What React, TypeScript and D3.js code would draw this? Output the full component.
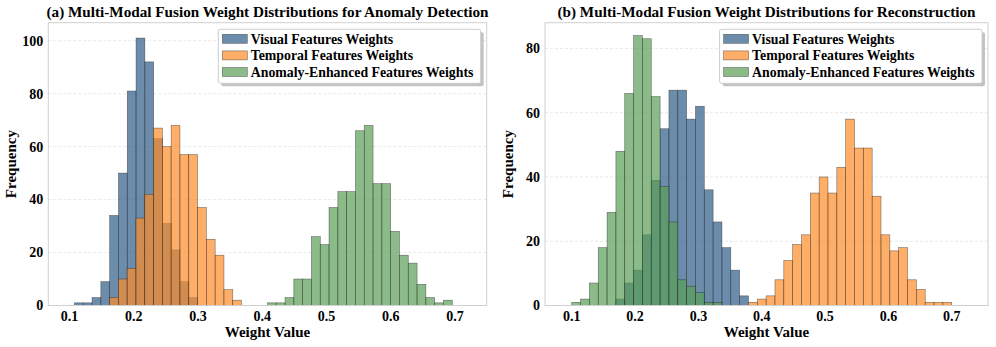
import * as d3 from "d3";

const seriesNames = [
  "Visual Features Weights",
  "Temporal Features Weights",
  "Anomaly-Enhanced Features Weights",
];

// (a) anomaly detection - bin start per series + counts per bin
const anomalyBinWidth = 0.0137;
const anomalyBinStarts = [0.1076, 0.1622, 0.408];
const anomalyVisual = [1, 1, 3, 9, 34, 50, 81, 101, 92, 63, 31, 21, 9, 3];
const anomalyTemporal = [3, 10, 14, 33, 42, 67, 60, 68, 57, 57, 37, 25, 19, 6, 2];
const anomalyEnhanced = [1, 1, 3, 10, 10, 26, 23, 37, 43, 43, 66, 68, 46, 46, 28, 19, 16, 8, 3, 1, 2];

// (b) reconstruction
const reconBinWidth = 0.013953;
const reconBinStarts = [0.16977, 0.37907, 0.1];
const reconVisual = [2, 7, 11, 22, 39, 55, 67, 67, 58, 62, 36, 26, 18, 11, 3];
const reconTemporal = [1, 2, 3, 8, 14, 19, 22, 35, 40, 35, 43, 58, 49, 49, 34, 22, 17, 18, 8, 5, 1, 1, 1];
const reconEnhanced = [1, 2, 7, 18, 29, 48, 66, 84, 83, 65, 37, 26, 8, 6, 4, 1, 1];

const xTicks = [0.1, 0.2, 0.3, 0.4, 0.5, 0.6, 0.7];
const anomalyYTicks = [0, 20, 40, 60, 80, 100];
const reconYTicks = [0, 20, 40, 60, 80];

const colors = ["#2E5B88", "#FF8C28", "#5A9E56"];
const font = "'Liberation Serif', 'Times New Roman', serif";

type PanelProps = {
  left: number;
  right: number;
  xDomain: [number, number];
  yMax: number;
  yTicks: number[];
  title: string;
  binWidth: number;
  starts: number[];
  counts: number[][];
};

const top = 22.7;
const bottom = 305.5;

function Panel({ left, right, xDomain, yMax, yTicks, title, binWidth, starts, counts }: PanelProps) {
  const x = d3.scaleLinear().domain(xDomain).range([left, right]);
  const y = d3.scaleLinear().domain([0, yMax]).range([bottom, top]);
  const cx = (left + right) / 2;
  const legW = 262.4;
  const legX = right - 6 - legW;
  const legY = 29.3;

  return (
    <g>
      <text x={cx} y={17} textAnchor="middle" fontSize={15.2} fontWeight="bold" fontFamily={font}>
        {title}
      </text>
      {yTicks.map((t) => (
        <line key={"g" + t} x1={left} x2={right} y1={y(t)} y2={y(t)}
          stroke="#b0b0b0" strokeOpacity={0.35} strokeDasharray="3,2" strokeWidth={0.8} />
      ))}
      {counts.map((arr, si) => (
        <g key={si}>
          {arr.map((c, i) => {
            const x0 = starts[si] + i * binWidth;
            return (
              <rect key={i} x={x(x0)} width={x(x0 + binWidth) - x(x0)} y={y(c)} height={y(0) - y(c)}
                fill={colors[si]} fillOpacity={0.7} stroke="#222" strokeOpacity={0.6} strokeWidth={0.6} />
            );
          })}
        </g>
      ))}
      <rect x={left} y={top} width={right - left} height={bottom - top} fill="none" stroke="#d0d0d0" strokeWidth={1} />
      {xTicks.map((t) => (
        <text key={"x" + t} x={x(t)} y={320.5} textAnchor="middle" fontSize={14} fontWeight="bold" fontFamily={font}>
          {d3.format(".1f")(t)}
        </text>
      ))}
      {yTicks.map((t) => (
        <text key={"y" + t} x={left - 5} y={y(t)} dy="0.35em" textAnchor="end" fontSize={14} fontWeight="bold" fontFamily={font}>
          {t}
        </text>
      ))}
      <text x={cx} y={337} textAnchor="middle" fontSize={15} fontWeight="bold" fontFamily={font}>
        Weight Value
      </text>
      <text transform={`translate(${left - 32},${(top + bottom) / 2}) rotate(-90)`} textAnchor="middle"
        fontSize={15} fontWeight="bold" fontFamily={font}>
        Frequency
      </text>
      <g>
        <rect x={legX + 3} y={legY + 3} width={legW} height={54} rx={2} fill="#888" fillOpacity={0.5} />
        <rect x={legX} y={legY} width={legW} height={54} rx={2} fill="white" stroke="#cccccc" strokeWidth={1} />
        {seriesNames.map((name, i) => (
          <g key={name}>
            <rect x={legX + 4} y={legY + 5 + i * 16.6} width={25} height={9}
              fill={colors[i]} fillOpacity={0.7} stroke="#222" strokeOpacity={0.6} strokeWidth={0.6} />
            <text x={legX + 32.5} y={legY + 9.5 + i * 16.6} dy="0.35em" fontSize={13.8} fontWeight="bold" fontFamily={font}>
              {name}
            </text>
          </g>
        ))}
      </g>
    </g>
  );
}

export default function App() {
  return (
    <div style={{ position: "absolute", left: 0, top: 0 }}>
      <svg width={996} height={347} style={{ display: "block", background: "white" }}>
        <Panel left={48.3} right={486.7} xDomain={[0.0669, 0.7493]} yMax={106.8} yTicks={anomalyYTicks}
          title="(a) Multi-Modal Fusion Weight Distributions for Anomaly Detection"
          binWidth={anomalyBinWidth} starts={anomalyBinStarts}
          counts={[anomalyVisual, anomalyTemporal, anomalyEnhanced]} />
        <Panel left={545} right={988} xDomain={[0.0578, 0.7573]} yMax={88} yTicks={reconYTicks}
          title="(b) Multi-Modal Fusion Weight Distributions for Reconstruction"
          binWidth={reconBinWidth} starts={reconBinStarts}
          counts={[reconVisual, reconTemporal, reconEnhanced]} />
      </svg>
    </div>
  );
}
